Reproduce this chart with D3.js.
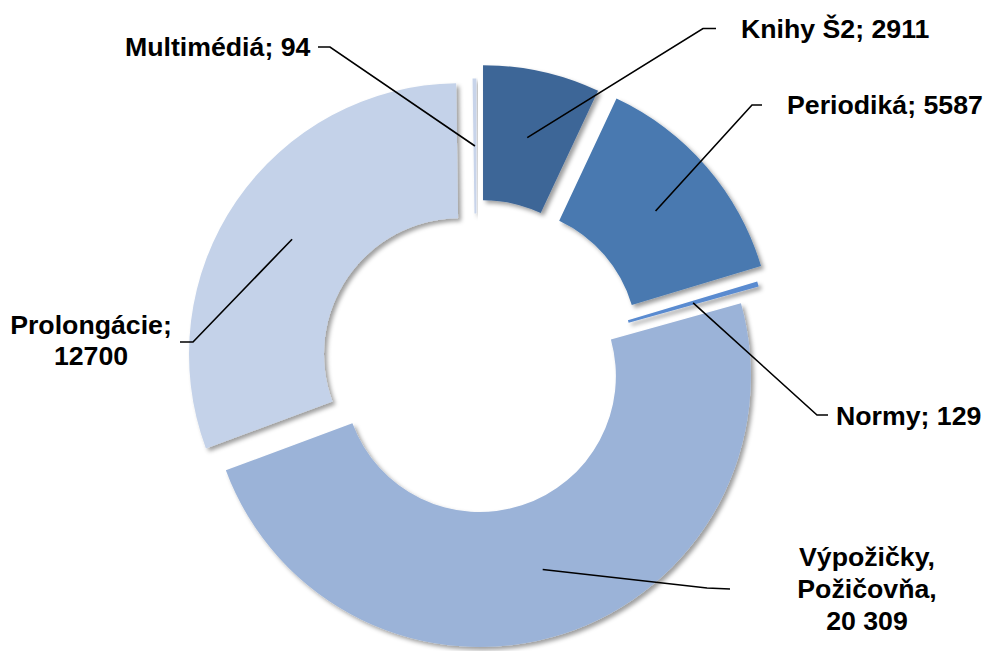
<!DOCTYPE html>
<html>
<head>
<meta charset="utf-8">
<script src="https://cdn.jsdelivr.net/npm/d3@7"></script>
<style>
  html, body { margin: 0; padding: 0; background: #fff; }
  svg { display: block; }
  text { font-family: "Liberation Sans", Arial, sans-serif; font-weight: bold; fill: #000; }
</style>
</head>
<body>
<svg id="chart" width="986" height="651"></svg>
<script>
// ---- data ----
const categories = ["Knihy Š2", "Periodiká", "Normy", "Výpožičky, Požičovňa", "Prolongácie", "Multimédiá"];
const values = [2911, 5587, 129, 20309, 12700, 94];
const valueLabels = ["2911", "5587", "129", "20 309", "12700", "94"];
const labelLines = [
  ["Knihy Š2; 2911"],
  ["Periodiká; 5587"],
  ["Normy; 129"],
  ["Výpožičky,", "Požičovňa,", "20 309"],
  ["Prolongácie;", "12700"],
  ["Multimédiá; 94"]
];

// ---- styling / layout ----
const colors = ["#3E6697", "#4879B0", "#5A8BD0", "#9BB3D8", "#C4D2E9", "#C8D4EA"];
const explode = [30, 33, 22, 11, 20, 16];
const W = 986, H = 651;
const cx = 476.5, cy = 365.5, R = 271, r = 136;

// label layout: text anchor point (x, first baseline), anchor, line height, leader elbow & end
const labelLayout = [
  { x: 741, y: 38,  anchor: "start",  lh: 0,  elbow: [703, 28.5], end: [716, 28.5] },
  { x: 787, y: 114, anchor: "start",  lh: 0,  elbow: [752, 105],  end: [762, 105] },
  { x: 836, y: 425, anchor: "start",  lh: 0,  elbow: [817, 415],  end: [828, 415] },
  { x: 867, y: 566, anchor: "middle", lh: 32, elbow: [707, 588],  end: [730, 589] },
  { x: 91,  y: 334, anchor: "middle", lh: 31, elbow: [193, 342],  end: [180, 342] },
  { x: 125, y: 56,  anchor: "start",  lh: 0,  elbow: [330, 47],   end: [318, 47] }
];

const svg = d3.select("#chart");
const defs = svg.append("defs");
const f = defs.append("filter").attr("id", "shadow")
  .attr("x", "-20%").attr("y", "-20%").attr("width", "140%").attr("height", "140%");
f.append("feDropShadow").attr("dx", 3).attr("dy", 3).attr("stdDeviation", 2.2)
  .attr("flood-color", "#000").attr("flood-opacity", 0.38);

const data = categories.map((c, i) => ({ name: c, value: values[i], i }));
const pie = d3.pie().value(d => d.value).sort(null).startAngle(0).endAngle(2 * Math.PI);
const arcs = pie(data);
const arcGen = d3.arc().innerRadius(r).outerRadius(R);

function offset(a, d) {
  const m = (a.startAngle + a.endAngle) / 2;
  return [Math.sin(m) * d, -Math.cos(m) * d];
}

const g = svg.append("g").attr("transform", `translate(${cx},${cy})`);

g.selectAll("path.slice").data(arcs).enter().append("path")
  .attr("class", "slice")
  .attr("d", arcGen)
  .attr("fill", (d, i) => colors[i])
  .attr("filter", "url(#shadow)")
  .attr("transform", (d, i) => { const o = offset(d, explode[i]); return `translate(${o[0]},${o[1]})`; });

// leader lines
const lineGen = d3.line();
arcs.forEach((a, i) => {
  const c = arcGen.centroid(a);
  const o = offset(a, explode[i]);
  const p0 = [cx + c[0] + o[0], cy + c[1] + o[1]];
  const L = labelLayout[i];
  svg.append("path")
    .attr("d", lineGen([p0, L.elbow, L.end]))
    .attr("fill", "none").attr("stroke", "#000").attr("stroke-width", 1.6);
});

// labels
labelLines.forEach((lines, i) => {
  const L = labelLayout[i];
  const t = svg.append("text")
    .attr("x", L.x).attr("y", L.y)
    .attr("text-anchor", L.anchor)
    .style("font-size", "26.7px");
  lines.forEach((ln, k) => {
    t.append("tspan").attr("x", L.x).attr("y", L.y + k * L.lh).text(ln);
  });
});
</script>
</body>
</html>
